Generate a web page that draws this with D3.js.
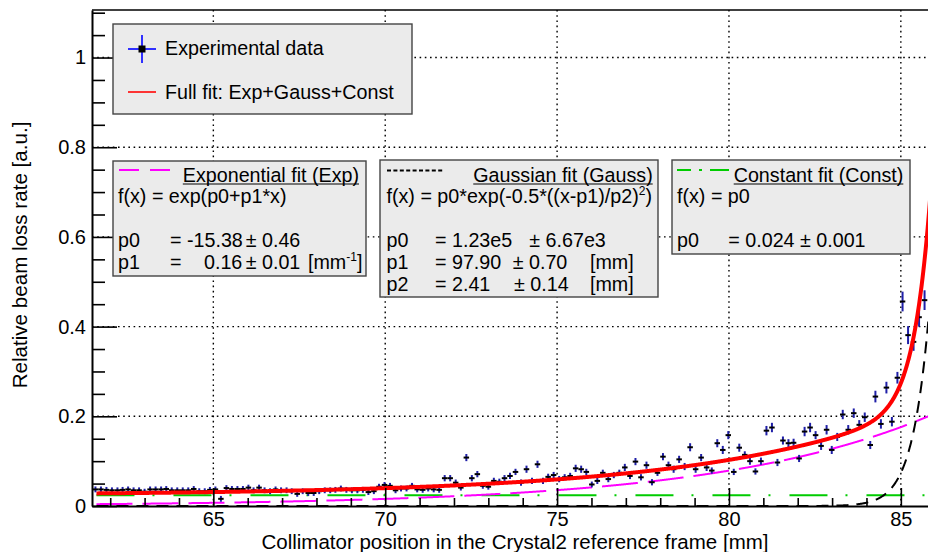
<!DOCTYPE html>
<html>
<head>
<meta charset="utf-8">
<script src="https://cdn.jsdelivr.net/npm/d3@7"></script>
<style>
  body { margin: 0; background: #fff; }
  svg { display: block; font-family: "Liberation Sans", Arial, sans-serif; }
</style>
</head>
<body>
<svg id="chart" width="928" height="552"></svg>
<script>
// collimator positions [mm]
let posX = [
    61.57, 61.73, 61.89, 62.05, 62.21, 62.36, 62.52, 62.68, 62.84, 63.00,
    63.16, 63.32, 63.48, 63.63, 63.79, 63.95, 64.11, 64.27, 64.43, 64.59,
    64.75, 64.90, 65.06, 65.22, 65.38, 65.54, 65.70, 65.86, 66.02, 66.17,
    66.33, 66.49, 66.65, 66.81, 66.97, 67.13, 67.28, 67.44, 67.60, 67.76,
    67.92, 68.08, 68.24, 68.40, 68.55, 68.71, 68.87, 69.03, 69.19, 69.35,
    69.51, 69.67, 69.82, 69.98, 70.14, 70.30, 70.46, 70.62, 70.78, 70.93,
    71.09, 71.25, 71.41, 71.57, 71.73, 71.89, 72.05, 72.20, 72.36, 72.52,
    72.68, 72.84, 73.00, 73.16, 73.32, 73.47, 73.63,
    73.79, 73.95, 74.11, 74.27, 74.43, 74.59, 74.74, 74.90, 75.06, 75.22,
    75.38, 75.54, 75.70, 75.85, 76.01, 76.17, 76.33, 76.49, 76.65, 76.81,
    76.97, 77.12, 77.28, 77.44, 77.60, 77.76, 77.92, 78.08, 78.24, 78.39,
    78.55, 78.71, 78.87, 79.03, 79.19, 79.35, 79.50, 79.66, 79.82, 79.98,
    80.14, 80.30, 80.46, 80.61, 80.77, 80.93, 81.09, 81.25, 81.41, 81.57,
    81.73, 81.88, 82.04, 82.20, 82.36, 82.52, 82.68, 82.84, 82.99, 83.15,
    83.31, 83.47, 83.63, 83.79, 83.95, 84.11, 84.26, 84.42, 84.58, 84.74,
    84.90, 85.05, 85.21, 85.37, 85.53, 85.69
];

// relative beam loss rate [a.u.]
let rate = [
    0.037, 0.037, 0.036, 0.035, 0.035, 0.036, 0.037, 0.035, 0.035, 0.032,
    0.037, 0.037, 0.037, 0.038, 0.035, 0.035, 0.035, 0.035, 0.038, 0.033,
    0.033, 0.036, 0.037, 0.016, 0.040, 0.038, 0.038, 0.038, 0.041, 0.035,
    0.041, 0.035, 0.033, 0.037, 0.035, 0.035, 0.033, 0.027, 0.033, 0.029,
    0.029, 0.033, 0.035, 0.035, 0.036, 0.039, 0.036, 0.035, 0.035, 0.036,
    0.031, 0.033, 0.043, 0.047, 0.045, 0.035, 0.039, 0.039, 0.045, 0.037,
    0.036, 0.039, 0.037, 0.036, 0.062, 0.062, 0.052, 0.041, 0.108, 0.062,
    0.071, 0.045, 0.043, 0.056, 0.054, 0.062, 0.067,
    0.076, 0.052, 0.082, 0.056, 0.093, 0.056, 0.065, 0.069, 0.060, 0.064,
    0.067, 0.084, 0.082, 0.076, 0.048, 0.056, 0.074, 0.060, 0.069, 0.074,
    0.086, 0.067, 0.099, 0.064, 0.091, 0.053, 0.074, 0.110, 0.091, 0.082,
    0.104, 0.088, 0.131, 0.082, 0.108, 0.086, 0.079, 0.140, 0.125, 0.158,
    0.076, 0.130, 0.114, 0.100, 0.077, 0.100, 0.168, 0.175, 0.097, 0.146,
    0.140, 0.141, 0.106, 0.166, 0.175, 0.158, 0.134, 0.170, 0.125, 0.154,
    0.204, 0.170, 0.207, 0.181, 0.198, 0.136, 0.244, 0.183, 0.264, 0.188,
    0.286, 0.456, 0.381, 0.366, 0.421, 0.459
];

// error on the rate
let rateErr = [
    0.0065, 0.0065, 0.0065, 0.0065, 0.0065, 0.0065, 0.0065, 0.0065, 0.0065, 0.0065,
    0.0065, 0.0065, 0.0065, 0.0065, 0.0065, 0.0065, 0.0065, 0.0065, 0.0065, 0.0065,
    0.0065, 0.0065, 0.0065, 0.0065, 0.0065, 0.0065, 0.0065, 0.0065, 0.0065, 0.0065,
    0.0065, 0.0065, 0.0065, 0.0065, 0.0065, 0.0065, 0.0065, 0.0065, 0.0065, 0.0065,
    0.0065, 0.0065, 0.0065, 0.0065, 0.0065, 0.0065, 0.0065, 0.0065, 0.0065, 0.0065,
    0.0065, 0.0065, 0.0065, 0.0065, 0.0065, 0.0065, 0.0065, 0.0065, 0.0065, 0.0065,
    0.0065, 0.0065, 0.0065, 0.0065, 0.007, 0.007, 0.007, 0.0065, 0.008, 0.007,
    0.007, 0.0065, 0.0065, 0.007, 0.007, 0.007, 0.007,
    0.007, 0.007, 0.008, 0.007, 0.008, 0.007, 0.007, 0.007, 0.007, 0.007,
    0.007, 0.008, 0.008, 0.007, 0.0065, 0.007, 0.007, 0.007, 0.007, 0.007,
    0.008, 0.007, 0.008, 0.007, 0.008, 0.007, 0.007, 0.008, 0.008, 0.008,
    0.008, 0.008, 0.009, 0.008, 0.008, 0.008, 0.007, 0.009, 0.009, 0.009,
    0.007, 0.009, 0.008, 0.008, 0.007, 0.008, 0.0105, 0.0105, 0.008, 0.009,
    0.009, 0.009, 0.008, 0.0105, 0.0105, 0.009, 0.009, 0.0105, 0.009, 0.009,
    0.0105, 0.0105, 0.0105, 0.0105, 0.0105, 0.009, 0.013, 0.0105, 0.013, 0.0105,
    0.013, 0.022, 0.020, 0.020, 0.021, 0.022
];
let posErr = 0.08;

// fit parameters (from the fit boxes)
let expPars = [-15.38, 0.1605];
let gausPars = [1.23e5, 97.90, 2.41];
let constPars = [0.024];
let fitRange = [61.6, 85.9];

let xMajor = [65, 70, 75, 80, 85];
let yMajor = [0, 0.2, 0.4, 0.6, 0.8, 1];
let yLabels = ["0", "0.2", "0.4", "0.6", "0.8", "1"];

(function () {
    let svg = d3.select("#chart");
    let left = 92, right = 928, top = 10, bottom = 506;
    let fs = 19.7;

    let x = d3.scaleLinear().domain([61.47, 85.79]).range([left, right]);
    let y = d3.scaleLinear().domain([0, 1.106]).range([bottom, top]);

    svg.append("defs").append("clipPath").attr("id", "clip")
        .append("rect").attr("x", left).attr("y", top)
        .attr("width", right - left).attr("height", bottom - top);

    // dotted grid
    let grid = svg.append("g")
        .attr("stroke", "#000")
        .attr("stroke-width", 1.4)
        .attr("stroke-dasharray", "1.6 3.6");
    grid.selectAll("line.gx").data(xMajor).enter().append("line")
        .attr("x1", d => x(d)).attr("x2", d => x(d))
        .attr("y1", top).attr("y2", bottom);
    grid.selectAll("line.gy").data(yMajor.filter(d => d > 0)).enter().append("line")
        .attr("x1", left).attr("x2", right)
        .attr("y1", d => y(d)).attr("y2", d => y(d));

    // fit curves
    let fExp = t => Math.exp(expPars[0] + expPars[1] * t);
    let fGaus = t => gausPars[0] * Math.exp(-0.5 * Math.pow((t - gausPars[1]) / gausPars[2], 2));
    let fConst = t => constPars[0];
    let fFull = t => fExp(t) + fGaus(t) + fConst(t);

    let xs = d3.range(fitRange[0], fitRange[1], 0.01);
    let line = f => d3.line().x(d => x(d)).y(d => y(Math.min(f(d), 2)))(xs);

    let curves = svg.append("g").attr("clip-path", "url(#clip)").attr("fill", "none");
    curves.append("path").attr("d", line(fConst))
        .attr("stroke", "#00cc00").attr("stroke-width", 2)
        .attr("stroke-dasharray", "38 18 2 19");
    curves.append("path").attr("d", line(fExp))
        .attr("stroke", "#ff00ff").attr("stroke-width", 2)
        .attr("stroke-dasharray", "36 10");
    curves.append("path").attr("d", line(fGaus))
        .attr("stroke", "#000").attr("stroke-width", 2)
        .attr("stroke-dasharray", "12 8");

    // data points with error bars
    let pts = posX.map((d, i) => ({x: d, y: rate[i], e: rateErr[i]}));
    let dg = svg.append("g").attr("clip-path", "url(#clip)");
    dg.selectAll("line.ey").data(pts).enter().append("line")
        .attr("x1", d => x(d.x)).attr("x2", d => x(d.x))
        .attr("y1", d => y(d.y - d.e)).attr("y2", d => y(d.y + d.e))
        .attr("stroke", "#1f1fa8").attr("stroke-width", 2);
    dg.selectAll("line.ex").data(pts).enter().append("line")
        .attr("x1", d => x(d.x - posErr)).attr("x2", d => x(d.x + posErr))
        .attr("y1", d => y(d.y)).attr("y2", d => y(d.y))
        .attr("stroke", "#000").attr("stroke-width", 2);

    // full fit on top
    svg.append("path").attr("clip-path", "url(#clip)").attr("fill", "none")
        .attr("d", line(fFull))
        .attr("stroke", "#ff0000").attr("stroke-width", 4);

    // axes, ticks pointing inside
    let xMinor = d3.range(62, 86).filter(d => xMajor.indexOf(d) < 0);
    let yMinor = d3.range(0, 1.11, 0.05).filter((d, i) => i % 4 != 0);

    let gx = svg.append("g").attr("transform", `translate(0,${bottom})`)
        .call(d3.axisBottom(x).tickValues(xMajor).tickSize(-18).tickSizeOuter(0)
            .tickPadding(6).tickFormat(d3.format("d")));
    svg.append("g").attr("transform", `translate(0,${bottom})`)
        .call(d3.axisBottom(x).tickValues(xMinor).tickSize(-8).tickSizeOuter(0).tickFormat(""))
        .select(".domain").remove();

    let gy = svg.append("g").attr("transform", `translate(${left},0)`)
        .call(d3.axisLeft(y).tickValues(yMajor).tickSize(-25).tickSizeOuter(0)
            .tickPadding(6).tickFormat((d, i) => yLabels[i]));
    svg.append("g").attr("transform", `translate(${left},0)`)
        .call(d3.axisLeft(y).tickValues(yMinor).tickSize(-13).tickSizeOuter(0).tickFormat(""))
        .select(".domain").remove();

    svg.selectAll(".tick line").attr("stroke", "#000").attr("stroke-width", 1.6);
    svg.selectAll(".domain").attr("stroke", "#000").attr("stroke-width", 2);
    svg.selectAll(".tick text")
        .attr("font-family", "'Liberation Sans', Arial, sans-serif")
        .attr("font-size", 20).attr("fill", "#000");

    // top frame line
    svg.append("line").attr("x1", left).attr("x2", right)
        .attr("y1", top).attr("y2", top)
        .attr("stroke", "#000").attr("stroke-width", 1.6);

    // axis titles
    svg.append("text").attr("x", 515).attr("y", 548.5)
        .attr("text-anchor", "middle").attr("font-size", 20.5)
        .text("Collimator position in the Crystal2 reference frame [mm]");
    svg.append("text").attr("transform", "translate(27,255) rotate(-90)")
        .attr("text-anchor", "middle").attr("font-size", 20.6)
        .text("Relative beam loss rate [a.u.]");

    // legend boxes
    function box(x0, y0, w, h) {
        let g = svg.append("g");
        g.append("rect").attr("x", x0).attr("y", y0).attr("width", w).attr("height", h)
            .attr("fill", "#ebebeb").attr("stroke", "#444").attr("stroke-width", 1.4);
        return g;
    }

    function rich(g, x0, yb, str, anchor) {
        let t = g.append("text").attr("x", x0).attr("y", yb)
            .attr("font-size", fs).attr("text-anchor", anchor || "start");
        let parts = str.split(/(\^\{[^}]*\})/);
        let up = false;
        parts.forEach(p => {
            if (!p) return;
            if (p.startsWith("^{")) {
                t.append("tspan").attr("dy", -8).attr("font-size", 12).text(p.slice(2, -1));
                up = true;
            } else {
                let s = t.append("tspan").text(p);
                if (up) { s.attr("dy", 8); up = false; }
            }
        });
        return t;
    }

    function header(g, xEnd, yb, str) {
        let t = rich(g, xEnd, yb, str, "end");
        let w = t.node().getComputedTextLength();
        g.append("line").attr("x1", xEnd - w).attr("x2", xEnd)
            .attr("y1", yb + 2.5).attr("y2", yb + 2.5)
            .attr("stroke", "#000").attr("stroke-width", 1.2);
    }

    let rowY = k => 181.5 + 21.8 * k;

    // main legend
    let lg = box(113, 24, 299, 90);
    lg.append("line").attr("x1", 142).attr("x2", 142).attr("y1", 35).attr("y2", 63)
        .attr("stroke", "#3030ff").attr("stroke-width", 2);
    lg.append("line").attr("x1", 128).attr("x2", 156).attr("y1", 49).attr("y2", 49)
        .attr("stroke", "#3030ff").attr("stroke-width", 2);
    lg.append("rect").attr("x", 138.5).attr("y", 45.5).attr("width", 7).attr("height", 7)
        .attr("fill", "#000");
    rich(lg, 165, 55, "Experimental data");
    lg.append("line").attr("x1", 128).attr("x2", 156).attr("y1", 92).attr("y2", 92)
        .attr("stroke", "#ff2020").attr("stroke-width", 1.8);
    rich(lg, 165, 99, "Full fit: Exp+Gauss+Const");

    // exponential box
    let eg = box(113, 161, 253, 115);
    eg.append("line").attr("x1", 119).attr("x2", 174).attr("y1", 170).attr("y2", 170)
        .attr("stroke", "#ff00ff").attr("stroke-width", 2).attr("stroke-dasharray", "20 11");
    header(eg, 359, rowY(0), "Exponential fit (Exp)");
    rich(eg, 118, rowY(1), "f(x) = exp(p0+p1*x)");
    rich(eg, 118, rowY(3), "p0");
    rich(eg, 170, rowY(3), "= -15.38");
    rich(eg, 245.7, rowY(3), "\u00b1 0.46");
    rich(eg, 118, rowY(4), "p1");
    rich(eg, 170, rowY(4), "=");
    rich(eg, 204, rowY(4), "0.16");
    rich(eg, 245.7, rowY(4), "\u00b1 0.01");
    rich(eg, 308, rowY(4), "[mm^{-1}]");

    // gaussian box
    let gg = box(380, 160, 278, 137);
    gg.append("line").attr("x1", 387).attr("x2", 443).attr("y1", 170.5).attr("y2", 170.5)
        .attr("stroke", "#000").attr("stroke-width", 2).attr("stroke-dasharray", "4 2.4");
    header(gg, 652.7, rowY(0), "Gaussian fit (Gauss)");
    rich(gg, 386.5, rowY(1), "f(x) = p0*exp(-0.5*((x-p1)/p2)^{2})");
    rich(gg, 386.5, rowY(3), "p0");
    rich(gg, 435, rowY(3), "= 1.23e5");
    rich(gg, 529.3, rowY(3), "\u00b1 6.67e3");
    rich(gg, 386.5, rowY(4), "p1");
    rich(gg, 435, rowY(4), "= 97.90");
    rich(gg, 512.7, rowY(4), "\u00b1 0.70");
    rich(gg, 590, rowY(4), "[mm]");
    rich(gg, 386.5, rowY(5), "p2");
    rich(gg, 435, rowY(5), "= 2.41");
    rich(gg, 514, rowY(5), "\u00b1 0.14");
    rich(gg, 590, rowY(5), "[mm]");

    // constant box
    let cg = box(672, 160, 238, 94);
    cg.append("line").attr("x1", 677).attr("x2", 729).attr("y1", 170).attr("y2", 170)
        .attr("stroke", "#00cc00").attr("stroke-width", 2).attr("stroke-dasharray", "14 8 3 8 20");
    header(cg, 903.3, rowY(0), "Constant fit (Const)");
    rich(cg, 677, rowY(1), "f(x) = p0");
    rich(cg, 677, rowY(3), "p0");
    rich(cg, 728.3, rowY(3), "= 0.024 \u00b1 0.001");
})();
</script>
</body>
</html>
